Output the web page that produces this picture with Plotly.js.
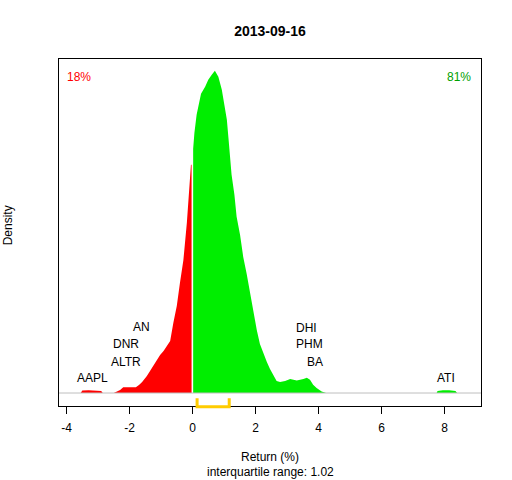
<!DOCTYPE html>
<html>
<head>
<meta charset="utf-8">
<script src="https://cdn.plot.ly/plotly-3.0.1.min.js"></script>
<style>html,body{margin:0;padding:0;background:#fff;}</style>
</head>
<body>
<div id="chart" style="width:512px;height:480px;"></div>
<script>
// Negative-return part of the density
const negX = [-3.55,-3.5,-3.3,-3.1,-2.9,-2.85,-2.5,-2.45,-2.3,-2.2,-2.0,-1.8,-1.7,-1.6,-1.45,-1.35,-1.24,-1.13,-1.03,-0.92,-0.82,-0.71,-0.61,-0.50,-0.40,-0.29,-0.18,-0.13,-0.08,-0.05,-0.03];
const negY = [0,0.0039,0.0042,0.0042,0.0031,0,0,0.0012,0.0047,0.0089,0.0089,0.0089,0.0124,0.0171,0.0264,0.0342,0.0435,0.0513,0.0591,0.0653,0.0726,0.0809,0.1089,0.1353,0.1711,0.2068,0.2644,0.3033,0.3281,0.3546,0.3546];
// Positive-return part of the density
const posX = [0.02,0.06,0.13,0.19,0.27,0.40,0.50,0.61,0.71,0.82,0.93,1.01,1.09,1.14,1.19,1.24,1.33,1.40,1.51,1.61,1.72,1.83,1.93,2.04,2.14,2.25,2.36,2.46,2.57,2.67,2.78,2.94,3.10,3.31,3.52,3.63,3.73,3.83,3.94,4.10,4.24,7.75,7.78,7.95,8.15,8.35,8.40];
const posY = [0.3795,0.4044,0.4323,0.4479,0.4650,0.4759,0.4868,0.4946,0.5008,0.4914,0.4712,0.4479,0.4246,0.3966,0.3624,0.3390,0.3079,0.2737,0.2457,0.2115,0.1851,0.1540,0.1229,0.0980,0.0762,0.0607,0.0482,0.0373,0.0280,0.0187,0.0171,0.0187,0.0218,0.0196,0.0218,0.0238,0.0207,0.0129,0.0078,0.0025,0,0,0.0031,0.0042,0.0042,0.0031,0];
// Extreme stock labels
const labelNames = ["AAPL","ALTR","DNR","AN","DHI","PHM","BA","ATI"];
const labelX = [-3.17,-2.11,-2.11,-1.62,3.61,3.72,3.88,8.05];
const labelY = [0.0238,0.0487,0.0757,0.1022,0.1016,0.0757,0.0487,0.0238];
// Shares and interquartile range
const pctNeg = "18%";
const pctPos = "81%";
const q1 = 0.145, q3 = 1.165;
const iqrText = "interquartile range: 1.02";
const tickVals = [-4,-2,0,2,4,6,8];
const titleText = "2013-09-16";

const FONT = "Liberation Sans, Arial, sans-serif";

const traces = [
  {x: negX, y: negY, type: 'scatter', mode: 'lines', fill: 'tozeroy',
   fillcolor: '#FF0000', line: {color: '#FF0000', width: 0}, hoverinfo: 'skip'},
  {x: posX, y: posY, type: 'scatter', mode: 'lines', fill: 'tozeroy',
   fillcolor: '#00EE00', line: {color: '#00EE00', width: 0}, hoverinfo: 'skip'}
];

const annotations = labelNames.map((n, i) => ({
  x: labelX[i], y: labelY[i], xref: 'x', yref: 'y', text: n, showarrow: false,
  xanchor: 'center', yanchor: 'middle', font: {family: FONT, size: 12, color: '#000'}
}));
annotations.push(
  {x: 0.048, y: 0.947, xref: 'paper', yref: 'paper', text: pctNeg, showarrow: false,
   xanchor: 'center', yanchor: 'middle', font: {family: FONT, size: 12, color: '#FF0000'}},
  {x: 0.949, y: 0.947, xref: 'paper', yref: 'paper', text: pctPos, showarrow: false,
   xanchor: 'center', yanchor: 'middle', font: {family: FONT, size: 12, color: '#00A000'}},
  {x: 0.5, y: -0.146, xref: 'paper', yref: 'paper', text: 'Return (%)', showarrow: false,
   xanchor: 'center', yanchor: 'middle', font: {family: FONT, size: 12, color: '#000'}},
  {x: 0.5, y: -0.189, xref: 'paper', yref: 'paper', text: iqrText, showarrow: false,
   xanchor: 'center', yanchor: 'middle', font: {family: FONT, size: 12, color: '#000'}},
  {x: -0.120, y: 0.5216, xref: 'paper', yref: 'paper', text: 'Density', showarrow: false,
   textangle: -90, xanchor: 'center', yanchor: 'middle', font: {family: FONT, size: 12, color: '#000'}}
);

const shapes = [
  {type: 'line', xref: 'paper', yref: 'y', x0: 0, x1: 1, y0: 0, y1: 0,
   line: {color: '#BEBEBE', width: 1}},
  {type: 'path', xref: 'x', yref: 'paper',
   path: `M ${q1},0.022 L ${q1},-0.002 L ${q3},-0.002 L ${q3},0.022`,
   line: {color: '#FFCC00', width: 3}}
];

const layout = {
  width: 512, height: 480,
  margin: {l: 59, r: 31, t: 59, b: 74, pad: 0},
  paper_bgcolor: '#fff', plot_bgcolor: '#fff',
  showlegend: false,
  title: {text: '<b>' + titleText + '</b>', x: 0.5, xref: 'paper', y: 1 - 30.7/480,
          yanchor: 'middle', font: {family: FONT, size: 14, color: '#000'}},
  xaxis: {range: [-4.24, 9.16], tickvals: tickVals, ticktext: tickVals.map(String),
          ticks: 'outside', ticklen: 7, tickcolor: '#000', tickwidth: 1,
          ticklabelstandoff: 4,
          showline: true, mirror: true, linecolor: '#000', linewidth: 1,
          showgrid: false, zeroline: false,
          tickfont: {family: FONT, size: 12, color: '#000'}},
  yaxis: {range: [-0.0202, 0.519], showticklabels: false, ticks: '',
          showline: true, mirror: true, linecolor: '#000', linewidth: 1,
          showgrid: false, zeroline: false},
  annotations: annotations,
  shapes: shapes
};

Plotly.newPlot('chart', traces, layout, {displayModeBar: false, staticPlot: true});
</script>
</body>
</html>
